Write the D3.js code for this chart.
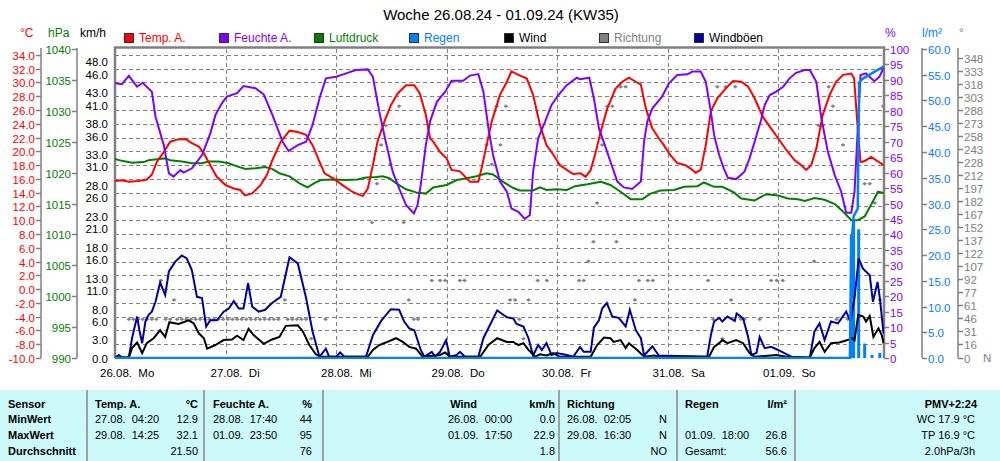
<!DOCTYPE html>
<html><head><meta charset="utf-8">
<script src="https://cdn.jsdelivr.net/npm/d3@7"></script>
<style>
body{margin:0;background:#fff;}
svg{display:block;font-family:"Liberation Sans",Arial,sans-serif;}
</style></head><body>
<svg id="c" width="1000" height="461"></svg>
<script>
// ---- data (time in hours since 26.08. 00:00) ----
const dayLabels = ["26.08.  Mo","27.08.  Di","28.08.  Mi","29.08.  Do","30.08.  Fr","31.08.  Sa","01.09.  So"];
const tempTicks = [-10,-8,-6,-4,-2,0,2,4,6,8,10,12,14,16,18,20,22,24,26,28,30,32,34];
const pressTicks = [990,995,1000,1005,1010,1015,1020,1025,1030,1035,1040];
const windTicks = [0,3,6,8,11,13,16,18,21,23,26,28,31,33,36,38,41,43,46,48];
const humTicks = [0,5,10,15,20,25,30,35,40,45,50,55,60,65,70,75,80,85,90,95,100];
const rainTicks = [0,5,10,15,20,25,30,35,40,45,50,55,60];
const dirTicks = [0,16,31,46,61,77,92,107,122,137,152,167,182,197,212,228,243,258,273,288,303,318,333,348];

const temperature = [[0,15.7],[1.5,15.8],[3,15.6],[5.1,15.7],[6.9,15.9],[8,16.6],[9.1,18.5],[10.6,19.9],[12,21.4],[13.5,21.7],[15.3,21.8],[16.7,21.2],[18.2,20.7],[19.3,19.7],[20.7,18.0],[22.1,16.3],[24,15.1],[25.8,14.6],[27.2,14.4],[28.2,13.6],[29.8,13.9],[31.6,15.1],[33,16.6],[34.1,18.6],[36,21.4],[37.9,23.0],[39.7,22.8],[41.5,22.4],[42.9,20.9],[44.4,18.5],[45.5,16.8],[47.3,16.1],[49.4,15.1],[51.6,14.1],[53.8,13.5],[54.9,14.6],[56,18.0],[57,21.4],[58.5,24.3],[59.9,26.7],[61.4,28.4],[63.2,29.6],[65,29.6],[66.2,28.4],[67.5,25.3],[68.4,21.9],[69.1,21.4],[70.6,19.9],[72,19.0],[73.1,17.3],[74.9,17.1],[77.1,15.6],[78.9,15.6],[79.6,17.5],[80.7,20.9],[81.8,24.3],[83.6,28.2],[85.1,30.1],[86.1,31.6],[87.6,31.1],[89.4,30.6],[90.8,28.2],[92.3,23.8],[93.7,20.9],[95.2,19.5],[96.6,18.0],[98.1,17.3],[99.5,16.7],[101.1,16.8],[102.2,16.3],[103.3,17.3],[104.4,19.9],[105.5,22.9],[106.9,26.2],[108.7,29.1],[110.2,30.1],[111.6,30.7],[113.1,30.1],[114.2,29.7],[115.3,26.2],[116.7,23.3],[118.1,21.9],[119.2,20.9],[120.3,19.7],[122.1,18.3],[123.9,18.0],[125,17.5],[126.1,16.9],[127.2,17.3],[128.3,20.9],[129.4,25.8],[130.8,27.7],[132.6,29.1],[134.2,30.2],[136,30.1],[137.5,29.4],[138.9,27.7],[140.7,25.0],[142.5,23.3],[144,21.9],[145.8,20.2],[147.6,18.7],[149,18.0],[150.1,17.3],[151.2,18.0],[152.3,20.4],[153.7,25.3],[155.2,28.2],[156.6,30.1],[158.1,31.1],[159.9,31.3],[160.5,30.6],[161.3,23.3],[161.9,18.5],[162.4,18.5],[163.1,18.7],[164.2,19.2],[165.3,18.7],[166.9,18.0]];

const humidity = [[0,88.9],[1.5,88.6],[3,91.3],[4.8,87.8],[6,89.1],[8,86.2],[8.8,78.1],[10.6,68.9],[11.7,59.8],[12.7,58.7],[14.2,60.8],[14.9,60.0],[16.7,61.4],[18.9,65.7],[20.7,72.7],[21.8,78.6],[23.2,82.4],[24.3,84.6],[26.5,85.7],[27.9,88.0],[30.5,87.3],[32.3,85.3],[32.8,83.5],[34.2,78.6],[36.4,70.0],[37.7,67.0],[39.7,68.9],[41.5,70.0],[42.9,75.4],[44.4,84.0],[45.8,90.5],[48,91.0],[50.2,92.1],[52.3,93.2],[54.9,93.4],[56,91.0],[57.4,79.7],[58.8,70.0],[60.3,60.3],[61.7,54.9],[63.2,49.5],[64.9,46.8],[65.7,49.5],[66.4,56.0],[67.5,68.9],[68.4,76.5],[69.9,82.9],[71.7,86.2],[73.1,89.7],[75.6,89.7],[77.1,91.4],[78.9,91.9],[80,86.2],[81.1,74.3],[82.1,65.7],[83.6,57.1],[85.1,53.8],[86.1,48.4],[87.6,47.3],[89,45.0],[90.1,46.3],[90.8,60.3],[91.9,71.1],[93.4,76.5],[94.8,81.9],[96.3,85.1],[98.1,88.3],[100.3,90.7],[101,90.2],[103,90.7],[104,84.0],[105.1,74.3],[106.6,67.9],[107.6,63.5],[109.1,57.1],[110.5,55.2],[112.3,54.7],[114.2,57.1],[114.9,70.0],[115.6,76.5],[116.7,80.8],[118.8,84.6],[120.3,88.9],[122.1,91.6],[124.3,91.8],[125.4,92.7],[127.2,92.7],[128.3,89.4],[129.4,79.7],[130.1,72.2],[131.2,65.7],[132.2,61.4],[133.1,58.3],[134.9,57.9],[136.7,60.3],[137.8,64.6],[138.9,70.0],[140.3,77.0],[141.1,81.9],[142.2,85.1],[143.6,86.2],[145.1,87.8],[146.5,90.5],[147.9,92.3],[149.8,93.2],[150.9,93.2],[152.3,89.4],[153.4,77.6],[154.8,66.8],[156.3,59.2],[157.7,53.8],[158.8,47.0],[159.9,47.0],[160.6,53.8],[161.5,79.7],[161.9,91.6],[163.1,92.1],[164.9,89.6],[166,91.0],[166.9,93.9]];

const pressure = [[0,1022.2],[1.5,1021.9],[3.7,1021.6],[6.2,1021.7],[7.3,1022.0],[9.5,1022.2],[10.9,1022.3],[12,1022.0],[14.5,1021.8],[16.7,1021.5],[18.9,1021.5],[20.3,1021.8],[22.5,1021.8],[24.7,1021.5],[26.5,1021.0],[28.3,1020.6],[30.5,1020.7],[32.6,1020.9],[34.1,1020.6],[35.7,1019.9],[37.9,1019.4],[40,1018.3],[41.8,1017.6],[43.3,1018.3],[44.7,1018.8],[47.3,1018.9],[50.2,1018.8],[52.7,1018.9],[54.5,1019.2],[56.7,1019.3],[58.1,1019.4],[59.6,1019.1],[61,1018.3],[63.2,1017.3],[65.4,1016.8],[67.5,1016.6],[69.1,1017.6],[72,1018.0],[74.2,1018.8],[76.4,1019.1],[78.5,1019.4],[80.7,1019.9],[82.1,1019.7],[84.3,1018.5],[86.5,1017.5],[87.9,1017.1],[90.8,1017.1],[92.3,1017.6],[93.7,1017.2],[95.9,1017.3],[98.1,1017.2],[99.9,1017.8],[102.6,1018.1],[105.5,1018.5],[107.6,1018.0],[109.8,1016.9],[112,1015.7],[114.5,1015.7],[116.3,1016.6],[118.5,1017.1],[121.4,1017.2],[123.6,1017.7],[126.5,1017.8],[127.9,1018.4],[130.1,1017.7],[131.9,1017.7],[134.4,1016.8],[136,1015.8],[138.9,1015.5],[141.4,1016.5],[144,1016.3],[146.1,1015.8],[148.3,1015.7],[149.8,1015.4],[151.9,1015.9],[154.1,1015.6],[156.3,1014.9],[158.1,1013.7],[159.9,1012.3],[161.3,1012.3],[162.8,1012.9],[164.2,1014.8],[165.7,1016.9],[166.9,1016.7]];

const gusts = [[0.1,0.1],[0.8,0.5],[1.5,0.1],[3,0.1],[3.7,3.2],[4.8,6.7],[5.3,4.5],[5.9,2.4],[6.6,5.9],[7.3,7.0],[8,7.5],[8.8,9.1],[9.8,12.2],[10.9,10.2],[11.7,14.0],[13.1,15.6],[14.5,16.6],[15.6,16.1],[16.7,14.2],[17.8,9.9],[18.9,9.7],[19.8,5.1],[20.7,6.1],[22.1,6.1],[23.6,7.5],[24.7,8.0],[25.8,9.2],[26.9,8.0],[27.9,8.0],[28.9,12.1],[29.8,8.3],[31.2,7.5],[32.6,7.8],[34.1,8.9],[36,9.9],[37.9,16.3],[39.7,15.3],[41.5,9.7],[42.9,4.3],[44.4,0.2],[45.8,1.5],[46.5,0.2],[48,0.2],[48.9,0.9],[49.8,0.2],[54.5,0.2],[56,3.7],[57.8,6.0],[59.9,7.9],[61.7,7.8],[62.8,5.9],[63.9,4.8],[65,4.5],[66.4,1.3],[67.2,0.2],[68.8,1.0],[69.5,0.2],[70.6,1.0],[71.9,2.9],[72.7,0.2],[74.2,0.5],[74.9,1.0],[76,0.2],[78.9,0.2],[80,3.2],[81.4,5.3],[83,7.7],[85.1,6.6],[86.5,6.4],[87.2,5.5],[88.7,5.1],[89.8,3.2],[90.8,0.4],[91.9,2.1],[92.7,1.3],[93.7,2.4],[94.8,0.5],[95.9,0.8],[98.1,0.5],[99.5,0.2],[101,1.8],[101.8,1.0],[103.3,1.0],[104,4.9],[105.1,6.1],[105.8,8.0],[106.8,8.9],[108,6.7],[109.4,6.5],[110.9,5.1],[111.8,7.8],[113.1,4.5],[114.2,3.2],[114.9,0.4],[116.7,1.9],[118.1,0.4],[128.6,0.2],[129.4,3.7],[130.1,5.9],[131.2,6.5],[131.9,5.9],[133,6.7],[134.6,6.0],[135,7.2],[136.4,6.4],[137.5,3.4],[138.2,0.5],[139.3,0.8],[140,3.4],[141.1,1.6],[142.5,1.8],[144,1.3],[146.1,0.5],[147.2,0.1],[150.9,0.1],[151.9,4.3],[153,5.6],[154.1,2.9],[155.5,5.9],[157,5.6],[158.8,7.5],[159.7,5.9],[160.6,9.7],[161.5,16.1],[162.4,14.5],[163.9,13.4],[164.6,9.1],[165.6,12.3],[166.1,9.7],[166.9,4.0]];

const wind = [[0,0.1],[3,0.1],[3.7,1.6],[4.8,2.5],[5.9,0.8],[6.9,2.4],[8.4,3.2],[9.8,4.5],[10.9,3.4],[11.8,5.8],[13.8,5.5],[16,6.1],[17.1,5.6],[18.2,4.0],[19.3,3.2],[20,1.5],[21.8,2.1],[23.6,2.9],[25.4,3.0],[26.5,3.6],[27.9,2.9],[29,4.7],[30.1,3.7],[32.3,2.3],[34.1,3.0],[35.7,3.4],[37.1,5.2],[39.7,5.3],[40.8,4.3],[42.2,2.1],[43.6,0.6],[44.7,0.2],[54.9,0.2],[56,1.3],[57.4,2.1],[58.8,2.5],[61,3.2],[62.5,2.6],[63.9,1.8],[65.4,1.5],[66.8,0.2],[70.6,0.5],[71.7,0.9],[72.7,0.2],[79.3,0.2],[81.1,2.1],[83,3.2],[85.1,2.6],[86.5,2.6],[87.6,2.1],[88.7,2.4],[89.8,1.3],[91.2,0.2],[92.3,0.6],[93.7,0.4],[95.2,0.8],[96.6,0.2],[103.3,0.2],[104.7,2.1],[106.2,3.3],[107.6,3.2],[108.3,2.6],[109.8,2.9],[110.9,1.6],[111.6,2.4],[113.4,1.3],[114.9,0.2],[117.1,0.4],[118.1,0.2],[129,0.2],[130.1,1.8],[131.2,2.4],[131.9,2.9],[133,2.4],[134.9,2.9],[136.4,2.4],[137.8,0.8],[138.9,0.2],[143.6,0.5],[145.8,0.2],[150.9,0.1],[151.9,1.6],[153,2.6],[154.1,1.0],[155.5,2.4],[157.3,2.5],[159.1,2.9],[160.2,3.2],[160.6,2.9],[161.4,7.0],[162.5,6.7],[163.1,5.9],[163.9,6.8],[164.7,3.4],[165.8,4.8],[166.5,3.7],[166.9,2.4]];

const direction = [[3,45],[4,45],[5,45],[6,45],[7,45],[8,45],[9,45],[10,90],[11,45],[12,45],[12.8,67.5],[13.5,45],[14.5,45],[15.5,45],[16.5,45],[17.5,45],[18.5,45],[19.5,45],[20.5,45],[21.5,45],[22.5,45],[23.5,45],[24.5,45],[25.5,45],[26.5,45],[27.5,45],[28.5,45],[29.5,45],[30.5,45],[31.5,45],[32.5,45],[33.5,45],[34.5,45],[35.5,45],[36.9,67.5],[37.5,45],[38.5,45],[39.5,45],[40.5,45],[41.5,45],[42.6,22.5],[45.7,45],[55.8,157.5],[56.9,202.5],[57.8,247.5],[58.8,270],[59.8,225],[61.7,292.5],[62.7,157.5],[63.8,67.5],[64.9,45],[65.8,45],[68.8,90],[70.6,90],[71.7,90],[74.9,90],[75.9,90],[80.7,247.5],[81.8,225],[82.9,292.5],[83.7,247.5],[84.9,292.5],[85.8,67.5],[86.9,67.5],[87.8,45],[88.7,22.5],[89.8,67.5],[91.8,90],[93.8,90],[100.8,90],[101.8,90],[102.8,112.5],[103.9,135],[104.7,180],[105.8,247.5],[106.9,292.5],[108,292.5],[108.9,135],[109.8,315],[110.9,315],[112.9,67.5],[113.8,90],[115.7,90],[116.8,90],[128.8,90],[129.9,45],[130.8,315],[131.9,22.5],[132.6,315],[133.8,67.5],[134.7,315],[135.9,45],[136.7,45],[140,45],[142.5,90],[143.7,90],[145,90],[151.8,112.5],[152.8,270],[153.7,270],[155,315],[155.9,292.5],[156.7,45],[158.1,247.5],[159.1,45],[159.9,67.5],[162.8,202.5],[163.9,202.5],[165,180],[166.1,67.5],[166.8,292.5]];

const rainBars = [[159.9,24.0],[160.4,26.8],[161.5,25.0],[162.8,2.8],[164.4,0.6],[166.1,1.0]];
const rainSum = [[0,0],[159.6,0],[159.9,22],[160.4,27.5],[161.3,29.0],[161.6,53.5],[162.5,54.3],[165,55.6],[166.9,56.6]];

const legend = [["Temp. A.","#ff0000"],["Feuchte A.","#8000ff"],["Luftdruck","#008000"],["Regen","#0080ff"],["Wind","#000000"],["Richtung","#808080"],["Windböen","#0000a0"]];

// ---- layout ----
const L=115, R=884, T=49, B=358;
const svg=d3.select("#c");
const x=d3.scaleLinear().domain([0,167]).range([L,R]);
const yT=d3.scaleLinear().domain([-10,35]).range([B,48]);
const yP=d3.scaleLinear().domain([990,1040]).range([B,T]);
const yW=d3.scaleLinear().domain([0,50]).range([B,T]);
const yH=d3.scaleLinear().domain([0,100]).range([B,T]);
const yR=d3.scaleLinear().domain([0,60]).range([B,T]);
const yD=d3.scaleLinear().domain([0,360]).range([B,48]);
const grey="#808080";

// title
svg.append("text").attr("x",501).attr("y",20).attr("text-anchor","middle").attr("font-size",15).text("Woche 26.08.24 - 01.09.24 (KW35)");

// units
const units=[["°C",20,"#ff0000"],["hPa",48,"#008000"],["km/h",80,"#000"],["%",885,"#8000ff"],["l/m²",922,"#0080ff"],["°",959,grey]];
units.forEach(u=>svg.append("text").attr("x",u[1]).attr("y",37).attr("font-size",12).attr("fill",u[2]).text(u[0]));

// legend
const lg=svg.append("g");
legend.forEach((d,i)=>{
  const gx=124+i*95;
  lg.append("rect").attr("x",gx+0.5).attr("y",33.5).attr("width",9).attr("height",9).attr("fill",d[1]).attr("stroke","#303030");
  lg.append("text").attr("x",gx+15).attr("y",42).attr("font-size",12).attr("fill",d[0]==="Wind"||d[0]==="Windböen"?"#000":d[1]).text(d[0]);
});

// gridlines
const grid=svg.append("g").attr("stroke",grey).attr("stroke-dasharray","4,3").attr("stroke-width",1);
tempTicks.slice(1).forEach(t=>grid.append("line").attr("x1",L).attr("x2",R).attr("y1",Math.round(yT(t))+0.5).attr("y2",Math.round(yT(t))+0.5));
[24,48,72,96,120,144].forEach(h=>grid.append("line").attr("x1",Math.round(x(h))+0.5).attr("x2",Math.round(x(h))+0.5).attr("y1",T).attr("y2",B));

// frame
svg.append("path").attr("d",`M${L},${B}V${T-1.5}H${R}V${B}`).attr("fill","none").attr("stroke",grey).attr("stroke-width",2.5);

// left axes
function axisLeftCustom(scale,ticks,xLine,fmt,color,lineOn){
  const g=svg.append("g");
  if(lineOn){
    g.append("line").attr("x1",xLine).attr("x2",xLine).attr("y1",T-1).attr("y2",B).attr("stroke",grey).attr("stroke-width",1.5);
  }
  ticks.forEach(t=>{
    const yy=Math.round(scale(t))+0.5;
    if(lineOn) g.append("line").attr("x1",xLine-5).attr("x2",xLine).attr("y1",yy).attr("y2",yy).attr("stroke",grey).attr("stroke-width",1.5);
    g.append("text").attr("x",lineOn?xLine-6:xLine).attr("y",yy+4).attr("text-anchor","end").attr("font-size",11.5).attr("fill",color).text(fmt(t));
  });
}
axisLeftCustom(yT,tempTicks,41,d=>d.toFixed(1),"#ff0000",true);
axisLeftCustom(yP,pressTicks,77,d=>d,"#008000",true);
axisLeftCustom(yW,windTicks,108,d=>d.toFixed(1),"#000",false);

function axisRightCustom(scale,ticks,xLine,fmt,color,lineOn){
  const g=svg.append("g");
  if(lineOn) g.append("line").attr("x1",xLine).attr("x2",xLine).attr("y1",T-1).attr("y2",B).attr("stroke",grey).attr("stroke-width",1.5);
  ticks.forEach(t=>{
    const yy=Math.round(scale(t))+0.5;
    g.append("line").attr("x1",xLine-(lineOn?0:0)).attr("x2",xLine+5).attr("y1",yy).attr("y2",yy).attr("stroke",grey).attr("stroke-width",1.5);
    g.append("text").attr("x",xLine+6).attr("y",yy+4).attr("font-size",11.5).attr("fill",color).text(fmt(t));
  });
}
axisRightCustom(yH,humTicks,884,d=>d,"#8000ff",false);
axisRightCustom(yR,rainTicks,922,d=>d.toFixed(1),"#0080ff",true);
axisRightCustom(yD,dirTicks,958,d=>d,grey,true);
svg.append("text").attr("x",983).attr("y",362).attr("font-size",11.5).attr("fill",grey).text("N");

// x labels
dayLabels.forEach((d,i)=>svg.append("text").attr("x",x(i*24)-15).attr("y",377).attr("font-size",11.5).attr("xml:space","preserve").style("white-space","pre").text(d));

// clip
svg.append("clipPath").attr("id","pc").append("rect").attr("x",L).attr("y",T-1).attr("width",R-L).attr("height",B-T+2);
const plot=svg.append("g").attr("clip-path","url(#pc)");

const mk=(ys)=>d3.line().x(d=>x(d[0])).y(d=>ys(d[1]));
// rain bars
plot.selectAll("rect.rb").data(rainBars).join("rect").attr("x",d=>x(d[0])-1.5).attr("width",3).attr("y",d=>yR(d[1])).attr("height",d=>B-yR(d[1])).attr("fill","#0080ff");
// direction
plot.selectAll("path.dir").data(direction).join("path").attr("d","M-2,0L0,-1.5L2,0L0,1.5Z").attr("transform",d=>`translate(${x(d[0])},${yD(d[1])})`).attr("fill",grey).attr("stroke",grey).attr("stroke-width",0.6);

plot.append("path").attr("d",mk(yP)(pressure)).attr("fill","none").attr("stroke","#008000").attr("stroke-width",2);
plot.append("path").attr("d",mk(yW)(gusts)).attr("fill","none").attr("stroke","#0000a0").attr("stroke-width",2);
plot.append("path").attr("d",mk(yW)(wind)).attr("fill","none").attr("stroke","#000").attr("stroke-width",2);
plot.append("path").attr("d",mk(yT)(temperature)).attr("fill","none").attr("stroke","#ff0000").attr("stroke-width",2);
plot.append("path").attr("d",mk(yH)(humidity)).attr("fill","none").attr("stroke","#8000ff").attr("stroke-width",2);
plot.append("path").attr("d",mk(yR)(rainSum)).attr("fill","none").attr("stroke","#0080ff").attr("stroke-width",2.5);

// ---- table ----
const tb=svg.append("g").attr("font-size",11);
tb.append("rect").attr("x",0).attr("y",390).attr("width",1000).attr("height",71).attr("fill","#ccf9f9");
[87,204,323,559,677,795].forEach(v=>tb.append("line").attr("x1",v).attr("x2",v).attr("y1",390).attr("y2",461).attr("stroke","#a0a0a0").attr("stroke-width",2));
const rowsY=[408,423,439,455];
const cells=[
 [8,0,"Sensor","start",true],[8,1,"MinWert","start",true],[8,2,"MaxWert","start",true],[8,3,"Durchschnitt","start",true],
 [95,0,"Temp. A.","start",true],[198,0,"°C","end",true],[95,1,"27.08.  04:20","start"],[198,1,"12.9","end"],[95,2,"29.08.  14:25","start"],[198,2,"32.1","end"],[198,3,"21.50","end"],
 [213,0,"Feuchte A.","start",true],[312,0,"%","end",true],[213,1,"28.08.  17:40","start"],[312,1,"44","end"],[213,2,"01.09.  23:50","start"],[312,2,"95","end"],[312,3,"76","end"],
 [477,0,"Wind","end",true],[555,0,"km/h","end",true],[448,1,"26.08.  00:00","start"],[555,1,"0.0","end"],[448,2,"01.09.  17:50","start"],[555,2,"22.9","end"],[555,3,"1.8","end"],
 [567,0,"Richtung","start",true],[667,1,"N","end"],[567,1,"26.08.  02:05","start"],[567,2,"29.08.  16:30","start"],[667,2,"N","end"],[667,3,"NO","end"],
 [685,0,"Regen","start",true],[787,0,"l/m²","end",true],[685,2,"01.09.  18:00","start"],[787,2,"26.8","end"],[685,3,"Gesamt:","start"],[787,3,"56.6","end"],
 [977,0,"PMV+2:24","end",true],[975,1,"WC 17.9 °C","end"],[975,2,"TP 16.9 °C","end"],[975,3,"2.0hPa/3h","end"]
];
cells.forEach(c=>tb.append("text").attr("x",c[0]).attr("y",rowsY[c[1]]).attr("text-anchor",c[3]).attr("font-weight",c[4]?"bold":"normal").style("white-space","pre").text(c[2]));
</script></body></html>
